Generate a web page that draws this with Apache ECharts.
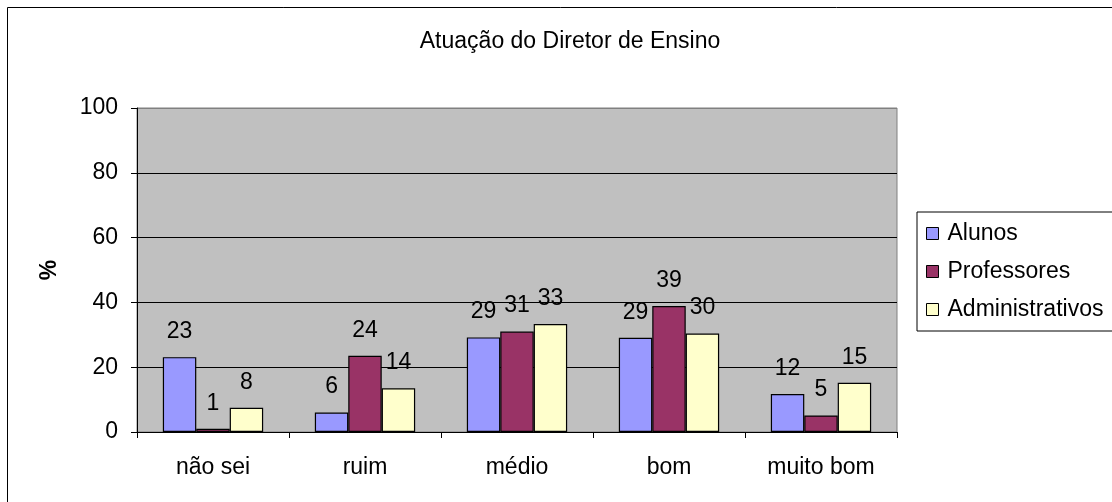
<!DOCTYPE html>
<html>
<head>
<meta charset="utf-8">
<script src="https://cdn.jsdelivr.net/npm/echarts@6/dist/echarts.min.js"></script>
<style>
	html, body { margin: 0; padding: 0; background: #fff; }
	#myChart { width: 1112px; height: 502px; }
</style>
</head>
<body>
<div id="myChart"></div>
<script>
var categories = ['não sei', 'ruim', 'médio', 'bom', 'muito bom'];
var alunos = [23.1, 6.0, 29.2, 29.1, 11.7];
var professores = [1.0, 23.5, 31.0, 38.9, 5.1];
var administrativos = [7.5, 13.5, 33.3, 30.4, 15.2];
var yTicks = [0, 20, 40, 60, 80, 100];

var font = 'Liberation Sans, Arial, sans-serif';
var fontSize = 23;
var myChart = echarts.init(document.getElementById('myChart'));

function barSeries(name, data, color) {
	return {
		name: name,
		type: 'bar',
		data: data,
		barGap: 0,
		barCategoryGap: '34%',
		itemStyle: { color: color, borderColor: '#000', borderWidth: 1.2 },
		label: {
			show: true,
			position: 'top',
			distance: 14,
			color: '#000',
			fontFamily: font,
			fontSize: fontSize,
			formatter: function (p) { return Math.round(p.value); }
		}
	};
}

myChart.setOption({
	animation: false,
	title: {
		text: 'Atuação do Diretor de Ensino',
		left: 565, top: 25, textAlign: 'center',
		textStyle: { color: '#000', fontFamily: font, fontSize: fontSize, fontWeight: 'normal' }
	},
	graphic: [{
		type: 'rect',
		shape: { x: 7.5, y: 7.5, width: 1200, height: 600 },
		style: { fill: 'none', stroke: '#000', lineWidth: 1 },
		z: -1
	}],
	legend: {
		orient: 'vertical',
		left: 917, top: 212,
		padding: [10, 12, 10, 9],
		itemGap: 15,
		itemWidth: 12, itemHeight: 12,
		borderColor: '#000', borderWidth: 1,
		icon: 'rect',
		textStyle: { color: '#000', fontFamily: font, fontSize: fontSize, padding: [0, 0, 0, 4] },
		itemStyle: { borderColor: '#000', borderWidth: 1 },
		data: ['Alunos', 'Professores', 'Administrativos']
	},
	grid: { left: 137, top: 108, width: 760, height: 324, backgroundColor: '#c0c0c0', show: true, borderColor: '#808080', borderWidth: 1 },
	xAxis: {
		type: 'category',
		data: categories,
		axisLine: { lineStyle: { color: '#000' } },
		axisTick: { show: true, length: 6, lineStyle: { color: '#000' } },
		axisLabel: { color: '#000', fontFamily: font, fontSize: fontSize, margin: 24 }
	},
	yAxis: {
		type: 'value',
		min: yTicks[0], max: yTicks[yTicks.length - 1], interval: 20,
		name: '%', nameLocation: 'middle', nameGap: 76, nameRotate: 90,
		nameTextStyle: { color: '#000', fontFamily: font, fontSize: fontSize, fontWeight: 'bold' },
		axisLine: { show: true, lineStyle: { color: '#000' } },
		axisTick: { show: true, length: 6, lineStyle: { color: '#000' } },
		axisLabel: { color: '#000', fontFamily: font, fontSize: fontSize, margin: 19 },
		splitLine: { lineStyle: { color: ['#000', '#000', '#000', '#000', '#000', '#808080'], width: 1 } }
	},
	series: [
		barSeries('Alunos', alunos, '#9999ff'),
		barSeries('Professores', professores, '#993366'),
		barSeries('Administrativos', administrativos, '#ffffcc')
	]
});
</script>
</body>
</html>
